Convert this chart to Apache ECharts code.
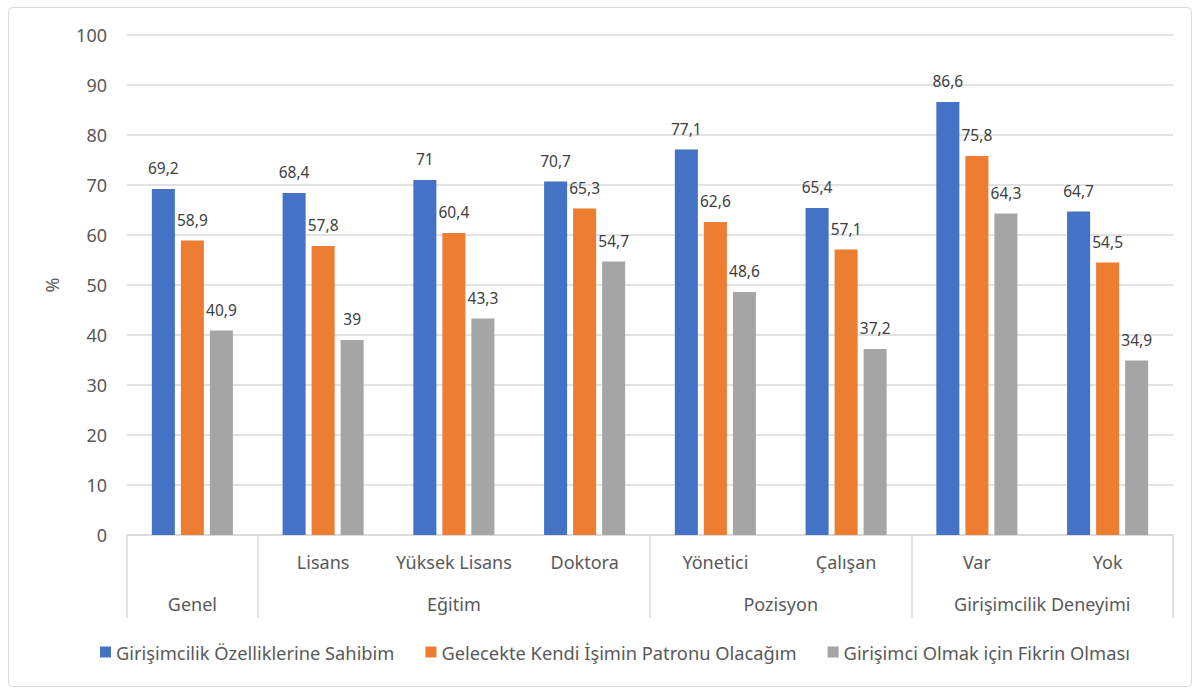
<!DOCTYPE html>
<html>
<head>
<meta charset="utf-8">
<script src="https://cdn.jsdelivr.net/npm/echarts@6/dist/echarts.min.js"></script>
<style>
html,body{margin:0;padding:0;background:#fff;}
#c{width:1196px;height:689px;}
</style>
</head>
<body>
<div id="c"></div>
<script>
const categories = ['Genel', 'Lisans', 'Yüksek Lisans', 'Doktora', 'Yönetici', 'Çalışan', 'Var', 'Yok'];
const level1Labels = ['', 'Lisans', 'Yüksek Lisans', 'Doktora', 'Yönetici', 'Çalışan', 'Var', 'Yok'];
const groupNames = ['Genel', 'Eğitim', 'Pozisyon', 'Girişimcilik Deneyimi'];
const groupCenters = [0.5, 2.5, 5, 7];
const groupBounds = [0, 1, 4, 6, 8];
const seriesNames = ['Girişimcilik Özelliklerine Sahibim', 'Gelecekte Kendi İşimin Patronu Olacağım', 'Girişimci Olmak için Fikrin Olması'];
const blueValues = [69.2, 68.4, 71, 70.7, 77.1, 65.4, 86.6, 64.7];
const orangeValues = [58.9, 57.8, 60.4, 65.3, 62.6, 57.1, 75.8, 54.5];
const grayValues = [40.9, 39, 43.3, 54.7, 48.6, 37.2, 64.3, 34.9];
const yTicks = [0, 10, 20, 30, 40, 50, 60, 70, 80, 90, 100];

const colors = ['#4472C4', '#ED7D31', '#A5A5A5'];
const FONT = 'Noto Sans';
const chart = echarts.init(document.getElementById('c'), null, {renderer: 'svg'});

function mkSeries(name, data, color) {
  return {
    name: name, type: 'bar', data: data, xAxisIndex: 0, yAxisIndex: 0,
    barGap: '26%', barCategoryGap: '38%',
    itemStyle: {color: color},
    label: {
      show: true, position: 'top', distance: 13,
      color: '#404040', fontSize: 15.5, fontFamily: FONT,
      formatter: p => String(p.value).replace('.', ',')
    }
  };
}

chart.setOption({
  animation: false,
  color: colors,
  graphic: [{
    type: 'rect', left: 6, top: 5, silent: true,
    shape: {width: 1183, height: 679, r: 4},
    style: {fill: 'none', stroke: '#d9d9d9', lineWidth: 1}
  }],
  grid: {left: 127, right: 23, top: 35, bottom: 154, containLabel: false},
  legend: {
    data: seriesNames, bottom: 23, left: 95,
    icon: 'rect', itemWidth: 11, itemHeight: 11, itemGap: 31,
    textStyle: {color: '#595959', fontSize: 18.3, fontFamily: FONT}
  },
  xAxis: [{
    type: 'category', data: level1Labels, position: 'bottom',
    axisLine: {show: true, lineStyle: {color: '#d9d9d9', width: 1.5}},
    axisTick: {show: false},
    axisLabel: {color: '#595959', fontSize: 18, fontFamily: FONT, margin: 18, interval: 0}
  }, {
    type: 'value', min: 0, max: 8, position: 'bottom',
    axisLine: {show: false},
    splitLine: {show: false},
    axisTick: {show: true, customValues: groupBounds, length: 83, lineStyle: {color: '#d9d9d9', width: 1.5}},
    axisLabel: {
      show: true, customValues: groupCenters, margin: 60,
      color: '#595959', fontSize: 18, fontFamily: FONT,
      formatter: v => groupNames[groupCenters.indexOf(v)]
    }
  }],
  yAxis: {
    type: 'value', min: 0, max: 100, interval: 10,
    name: '%', nameLocation: 'middle', nameGap: 66, nameRotate: 90,
    nameTextStyle: {color: '#595959', fontSize: 18, fontFamily: FONT},
    axisLine: {show: false}, axisTick: {show: false},
    axisLabel: {color: '#595959', fontSize: 18, fontFamily: FONT, margin: 20,
      customValues: yTicks},
    splitLine: {lineStyle: {color: '#d9d9d9', width: 1.5}}
  },
  series: [
    mkSeries(seriesNames[0], blueValues, colors[0]),
    mkSeries(seriesNames[1], orangeValues, colors[1]),
    mkSeries(seriesNames[2], grayValues, colors[2])
  ]
});
</script>
</body>
</html>
